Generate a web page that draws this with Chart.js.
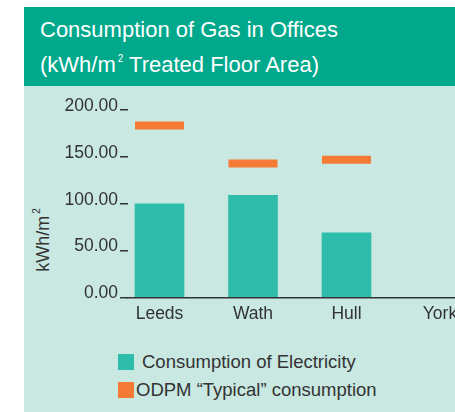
<!DOCTYPE html>
<html lang="en">
<head>
    <meta charset="UTF-8">
    <title>Consumption of Gas in Offices</title>
    <script src="https://cdn.jsdelivr.net/npm/chart.js"></script>
    <style>
        body { margin: 0; width: 455px; height: 412px; overflow: hidden; background: #fff; position: relative;
               font-family: "Liberation Sans", Arial, sans-serif; }
        #header { position: absolute; left: 24px; top: 7px; width: 431px; height: 79px; background: #00a88c; }
        #header h1 { margin: 0; padding: 8px 0 0 16px; color: #fff; font-weight: normal; font-size: 22px; line-height: 29px; }
        #header sup { font-size: 10px; vertical-align: 10px; margin-left: 2px; }
        #panel { position: absolute; left: 24px; top: 86px; width: 431px; height: 326px; background: #c8e8e1; }
        /* canvas is wider than the page so York ends up cut off at the right edge */
        #chart-box { position: absolute; left: 0; top: 86px; width: 520px; height: 246px; }
        #y-title { position: absolute; left: 42px; top: 240px; transform: translate(-50%, -50%) rotate(-90deg);
                   white-space: nowrap; font-size: 18px; color: #333; }
        #y-title sup { font-size: 10px; vertical-align: 9px; margin-left: 2px; }
        .legend-row { position: absolute; left: 118px; display: flex; align-items: center; font-size: 18.5px; color: #333; }
        .legend-row span.box { width: 16px; height: 16px; display: inline-block; }
    </style>
</head>
<body>
    <div id="header">
        <h1>Consumption of Gas in Offices<br>(kWh/m<sup>2</sup> Treated Floor Area)</h1>
    </div>
    <div id="panel"></div>
    <div id="y-title">kWh/m<sup>2</sup></div>
    <div id="chart-box"><canvas id="gasChart"></canvas></div>

    <div class="legend-row" style="top: 351px;"><span class="box" style="background:#2fbdab"></span><span style="margin-left:8px">Consumption of Electricity</span></div>
    <div class="legend-row" style="top: 379px;"><span class="box" style="background:#f47a36"></span><span style="margin-left:2px">ODPM “Typical” consumption</span></div>

    <script>
        // sites along the x axis
        const sites = ['Leeds', 'Wath', 'Hull', 'York'];
        // kWh/m2 values
        const consumption = [100, 109, 69, null];
        const odpmTypical = [183.5, 143, 147, null];
        const yTicks = [0, 50, 100, 150, 200];

        const textColor = '#333333';
        const font = { family: '"Liberation Sans", Arial, sans-serif', size: 17.5 };

        const ctx = document.getElementById('gasChart').getContext('2d');
        new Chart(ctx, {
            type: 'bar',
            data: {
                datasets: [
                    {
                        // typical consumption drawn as a short thick dash over each site
                        type: 'line',
                        label: 'ODPM “Typical” consumption',
                        data: sites.map((s, i) => ({ x: i, y: odpmTypical[i] })),
                        showLine: false,
                        pointStyle: 'line',
                        pointRadius: 24.5,
                        pointHoverRadius: 24.5,
                        pointBorderWidth: 8,
                        pointHoverBorderWidth: 8,
                        borderColor: '#f47a36',
                        backgroundColor: '#f47a36'
                    },
                    {
                        label: 'Consumption of Electricity',
                        data: sites.map((s, i) => ({ x: i, y: consumption[i] })),
                        backgroundColor: '#2fbdab',
                        barThickness: 49
                    }
                ]
            },
            options: {
                responsive: true,
                maintainAspectRatio: false,
                animation: false,
                events: [],
                layout: { autoPadding: false, padding: { top: 24, left: 60, right: 0, bottom: 1.5 } },
                plugins: { legend: { display: false }, tooltip: { enabled: false } },
                scales: {
                    x: {
                        type: 'linear',
                        offset: false,
                        min: -0.337,
                        max: 3.856,
                        grid: { display: false, drawTicks: false, offset: false },
                        border: { display: true, color: '#333', width: 1.5 },
                        afterBuildTicks: scale => { scale.ticks = sites.map((s, i) => ({ value: i })); },
                        afterFit: scale => { scale.paddingLeft = 0; scale.paddingRight = 0; },
                        ticks: {
                            padding: 6,
                            color: textColor,
                            font: font,
                            callback: v => sites[v]
                        }
                    },
                    y: {
                        min: 0,
                        max: 200,
                        afterBuildTicks: scale => { scale.ticks = yTicks.map(v => ({ value: v })); },
                        afterFit: scale => { scale.width = 68; },
                        grid: { drawOnChartArea: false, drawTicks: true, tickLength: 8, color: '#333', lineWidth: 1.5 },
                        border: { display: false },
                        ticks: {
                            padding: 2,
                            labelOffset: -4,
                            color: textColor,
                            font: font,
                            callback: v => v.toFixed(2)
                        }
                    }
                }
            }
        });
    </script>
</body>
</html>
